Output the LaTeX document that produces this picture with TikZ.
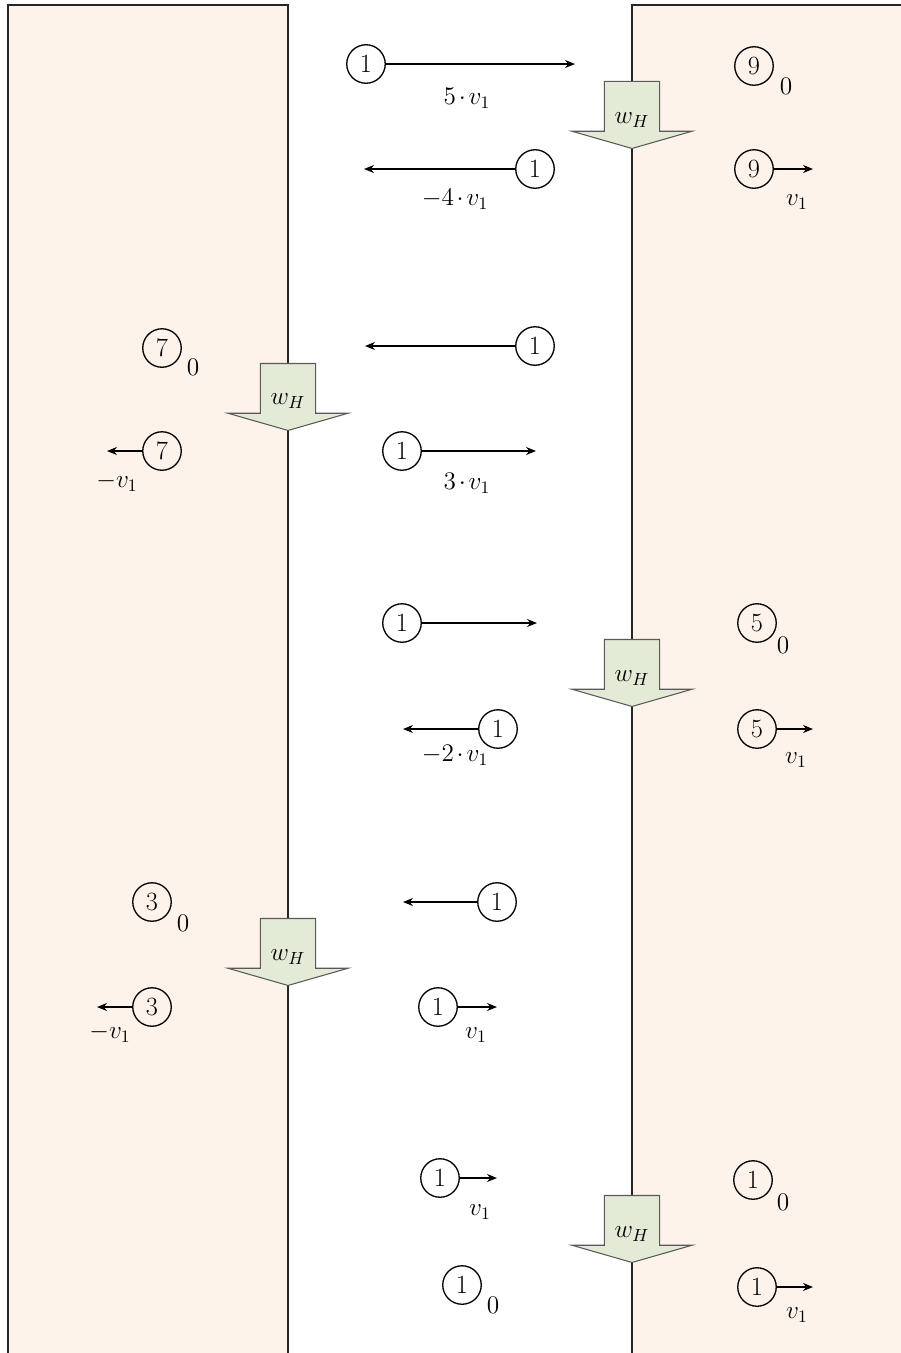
\documentclass[tikz,border=0pt]{standalone}
\usepackage{amsmath}
\usepackage{tikz}
\usetikzlibrary{arrows.meta,shapes.arrows}
\definecolor{wallpeach}{HTML}{FDF3EB}
\definecolor{pushgreen}{HTML}{E3EBD6}

\begin{document}
\begin{tikzpicture}[x=0.02cm,y=-0.02cm,
	ball/.style={circle,draw,line width=0.75pt,minimum size=0.77cm,inner sep=0pt,font=\fontsize{15}{18}\selectfont},
	vel/.style={line width=0.8pt,-{Stealth[length=2mm,width=1.6mm]}},
	lab/.style={font={\fontsize{14}{16}\selectfont\medmuskip=2mu\relax},inner sep=1pt},
	wall/.style={draw=black!85,line width=0.8pt,fill=wallpeach},
	push/.style={single arrow,shape border rotate=270,draw=black!65,line width=0.6pt,fill=pushgreen,
		inner xsep=0.52cm,inner ysep=0pt,
		minimum height=1.34cm,minimum width=2.4cm,
		single arrow head extend=0.62cm,single arrow tip angle=148,anchor=tip}]
	\useasboundingbox (0,0) rectangle (901,1353);
	\clip (0,0) rectangle (901,1353);
	\draw[wall] (8,5) rectangle (288,1380);
	\draw[wall] (632,5) rectangle (930,1380);

	% first collision, right wall
	\node[ball] (a1) at (366,64) {1};
	\coordinate (a1v) at (575,64);
	\draw[vel] (a1) -- (a1v);
	\node[lab] (a1l) at (467,98) {$5\cdot v_1$};
	\node[ball] (a9) at (754,66) {9};
	\node[lab] (a9s) at (786,86) {$0$};
	\node[push] (wA) at (632,149) {};
	\node[lab] (wAl) at (632,120) {$w_H$};
	\node[ball] (b1) at (535,169) {1};
	\coordinate (b1v) at (364,169);
	\draw[vel] (b1) -- (b1v);
	\node[lab] (b1l) at (455,199) {$-4\cdot v_1$};
	\node[ball] (b9) at (754,169) {9};
	\coordinate (b9v) at (813,169);
	\draw[vel] (b9) -- (b9v);
	\node[lab] (b9l) at (797,202) {$v_1$};

	% second collision, left wall
	\node[ball] (c1) at (535,346) {1};
	\coordinate (c1v) at (365,346);
	\draw[vel] (c1) -- (c1v);
	\node[ball] (c7) at (162,348) {7};
	\node[lab] (c7s) at (193,367) {$0$};
	\node[push] (wB) at (288,431) {};
	\node[lab] (wBl) at (288,401) {$w_H$};
	\node[ball] (d7) at (162,451) {7};
	\coordinate (d7v) at (107,451);
	\draw[vel] (d7) -- (d7v);
	\node[lab] (d7l) at (117,482) {$-v_1$};
	\node[ball] (d1) at (402,451) {1};
	\coordinate (d1v) at (536,451);
	\draw[vel] (d1) -- (d1v);
	\node[lab] (d1l) at (467,483) {$3\cdot v_1$};

	% third collision, right wall
	\node[ball] (e1) at (402,623) {1};
	\coordinate (e1v) at (537,623);
	\draw[vel] (e1) -- (e1v);
	\node[ball] (e5) at (757,623) {5};
	\node[lab] (e5s) at (783,645) {$0$};
	\node[push] (wC) at (632,707) {};
	\node[lab] (wCl) at (632,678) {$w_H$};
	\node[ball] (f1) at (498,729) {1};
	\coordinate (f1v) at (403,729);
	\draw[vel] (f1) -- (f1v);
	\node[lab] (f1l) at (455,755) {$-2\cdot v_1$};
	\node[ball] (f5) at (757,729) {5};
	\coordinate (f5v) at (813,729);
	\draw[vel] (f5) -- (f5v);
	\node[lab] (f5l) at (796,760) {$v_1$};

	% fourth collision, left wall
	\node[ball] (g1) at (497,902) {1};
	\coordinate (g1v) at (403,902);
	\draw[vel] (g1) -- (g1v);
	\node[ball] (g3) at (152,902) {3};
	\node[lab] (g3s) at (183,923) {$0$};
	\node[push] (wD) at (288,986) {};
	\node[lab] (wDl) at (288,957) {$w_H$};
	\node[ball] (h3) at (152,1007) {3};
	\coordinate (h3v) at (97,1007);
	\draw[vel] (h3) -- (h3v);
	\node[lab] (h3l) at (110,1033) {$-v_1$};
	\node[ball] (h1) at (438,1007) {1};
	\coordinate (h1v) at (497,1007);
	\draw[vel] (h1) -- (h1v);
	\node[lab] (h1l) at (476,1035) {$v_1$};

	% last collision, right wall
	\node[ball] (i1) at (440,1178) {1};
	\coordinate (i1v) at (497,1178);
	\draw[vel] (i1) -- (i1v);
	\node[lab] (i1l) at (480,1212) {$v_1$};
	\node[ball] (m1) at (753,1180) {1};
	\node[lab] (m1s) at (783,1202) {$0$};
	\node[push] (wE) at (632,1263) {};
	\node[lab] (wEl) at (632,1234) {$w_H$};
	\node[ball] (j1) at (462,1285) {1};
	\node[lab] (j1s) at (493,1305) {$0$};
	\node[ball] (k1) at (757,1287) {1};
	\coordinate (k1v) at (813,1287);
	\draw[vel] (k1) -- (k1v);
	\node[lab] (k1l) at (797,1315) {$v_1$};
\end{tikzpicture}
\end{document}
